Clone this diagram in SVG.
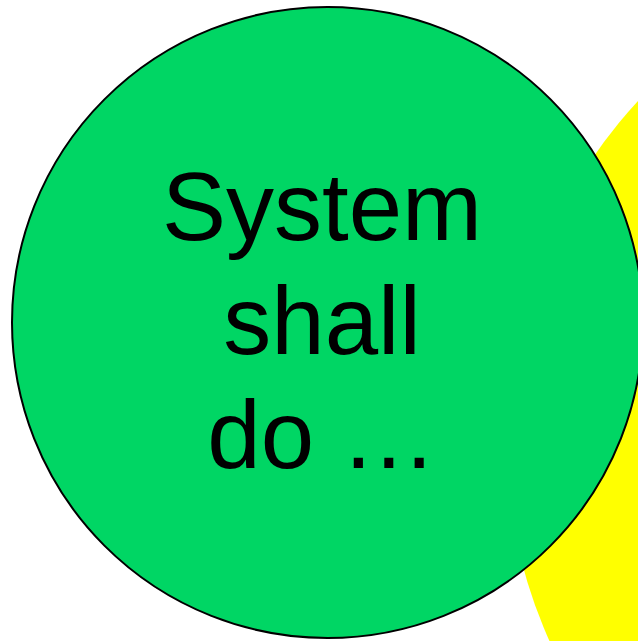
<svg xmlns="http://www.w3.org/2000/svg" width="638" height="641" viewBox="0 0 638 641">
<style>
.lbl{font-family:"Liberation Sans",Arial,sans-serif;font-size:96px;fill:#000;text-anchor:middle}
</style>
<rect width="638" height="641" fill="#fff"/>
<g id="yellow-circle"><circle cx="1002" cy="438" r="496" fill="#ffff00"/></g>
<g id="green-circle">
<circle cx="327.5" cy="322.5" r="315.5" fill="#00d664" stroke="#000" stroke-width="2"/>
<text class="lbl" x="322" y="240">System</text>
<text class="lbl" x="322" y="354">shall</text>
<text class="lbl" x="322" y="468">do …</text>
</g>
<g id="connectors"/>
</svg>
